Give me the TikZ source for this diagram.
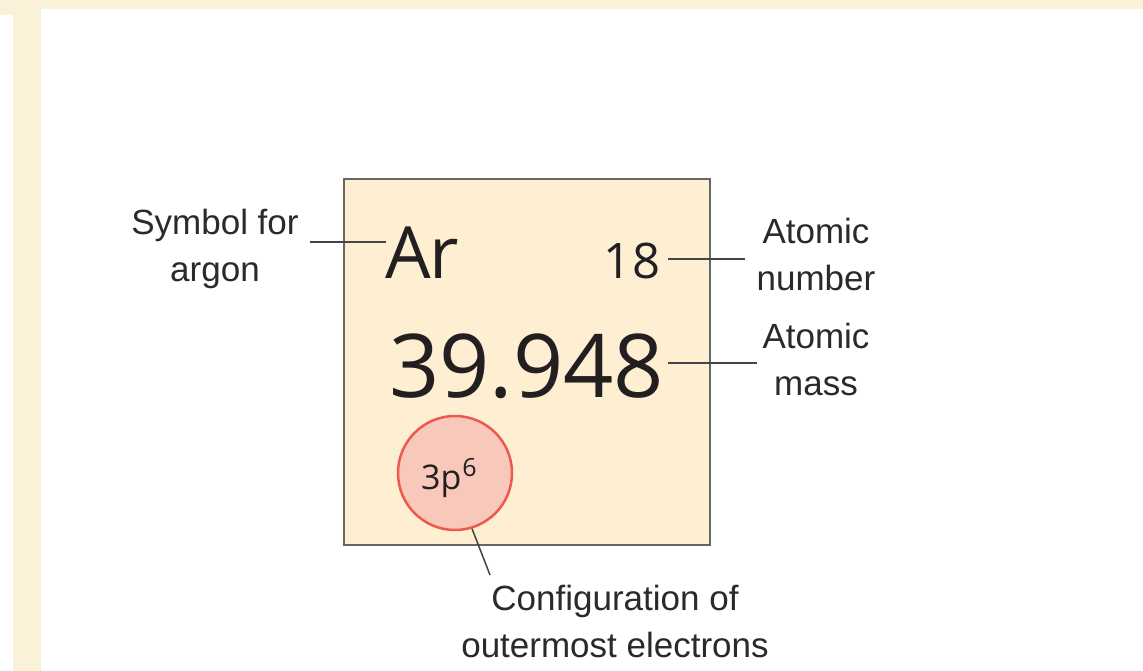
\documentclass[tikz,border=0pt]{standalone}
\usepackage{fontspec}
\setmainfont{Liberation Sans}
\newfontfamily\elfont{Open Sans}
\definecolor{cream}{HTML}{FAF2D8}
\definecolor{boxfill}{HTML}{FFEFD2}
\definecolor{boxline}{HTML}{666666}
\definecolor{circfill}{HTML}{F8C8BA}
\definecolor{circline}{HTML}{EC5A4E}
\definecolor{ink}{HTML}{231F20}
\definecolor{labink}{HTML}{2A2A2A}
\definecolor{leadc}{HTML}{444444}
\begin{document}
\begin{tikzpicture}[x=1pt,y=-1pt,
  lab/.style={align=center,inner sep=0pt,anchor=north,text=labink,
    font=\fontsize{35}{47}\selectfont},
  eltext/.style={inner sep=0pt,text=ink},
  lead/.style={draw=leadc,line width=1.5pt}]
\useasboundingbox (0,0) rectangle (1143,671);
% background
\fill[white] (0,0) rectangle (1143,671);
\fill[cream] (0,0) rectangle (1143,9);
\fill[cream] (0,9) rectangle (41,15);
\fill[cream] (13,9) rectangle (41,671);
% element box
\node[draw=boxline,fill=boxfill,line width=2pt,minimum width=366pt,minimum height=366pt,inner sep=0pt] (box) at (527,362) {};
\node[eltext,anchor=base west,font=\elfont\fontsize{72}{76}\selectfont,outer xsep=-1pt] (ar) at (386,278) {A\kern-1.5pt r};
\node[eltext,anchor=base east,font=\elfont\fontsize{49}{52}\selectfont,outer xsep=8pt] (n18) at (668,278) {18};
\node[eltext,anchor=base east,font=\elfont\fontsize{88}{92}\selectfont,outer xsep=4pt] (mass) at (668,397) {39.948};
\node[circle,draw=circline,fill=circfill,line width=2.5pt,minimum size=114pt,inner sep=0pt] (circ) at (455,473) {};
\node[eltext,anchor=base west,font=\elfont\fontsize{34}{36}\selectfont] (conf) at (421,489) {3p\kern1pt\raisebox{13pt}{\fontsize{25}{27}\selectfont 6}};
% labels
\node[lab] (symlab) at (215,209) {Symbol for\\argon};
\node[lab] (numlab) at (816,218) {Atomic\\number};
\node[lab] (masslab) at (816,323) {Atomic\\mass};
\node[lab] (conflab) at (615,585) {Configuration of\\outermost electrons};
% leaders
\coordinate (c1) at (310,242);
\coordinate (c2) at (745,259);
\coordinate (c3) at (757,363);
\coordinate (c4) at (490,575);
\draw[lead] (c1) -- (c1 -| ar.west);
\draw[lead] (c2 -| n18.east) -- (c2);
\draw[lead] (c3 -| mass.east) -- (c3);
\draw[lead] (circ.-73) -- (c4);
\end{tikzpicture}
\end{document}
